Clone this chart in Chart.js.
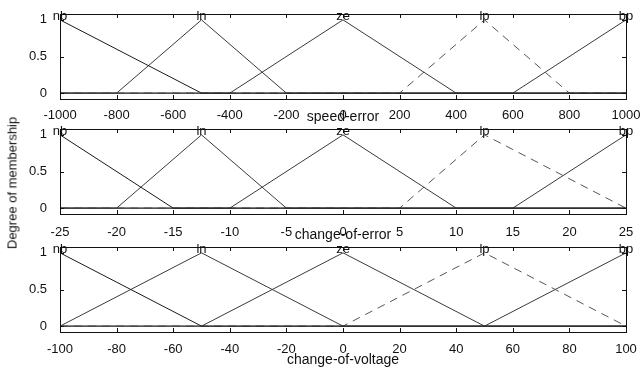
<!DOCTYPE html>
<html>
<head>
<meta charset="utf-8">
<script src="https://cdn.jsdelivr.net/npm/chart.js@4.4.1/dist/chart.umd.min.js"></script>
<style>
  body { margin: 0; background: #fff; width: 640px; height: 369px; overflow: hidden; position: relative; }
  canvas { position: absolute; left: 0; }
  #ylabel {
    position: absolute; left: 12px; top: 183px;
    transform: translate(-50%, -50%) rotate(-90deg);
    font: 13px "Liberation Sans", Arial, sans-serif; color: #111; white-space: nowrap;
  }
</style>
</head>
<body>
<canvas id="speed" width="640" height="124" style="top:0px"></canvas>
<canvas id="error" width="640" height="120" style="top:124px"></canvas>
<canvas id="voltage" width="640" height="125" style="top:244px"></canvas>
<div id="ylabel">Degree of membership</div>
<script>
const mfNames = ['nb', 'ln', 'ze', 'lp', 'bp'];

const speedTicks = [-1000, -800, -600, -400, -200, 0, 200, 400, 600, 800, 1000];
const speedMF = [
  [[-1000, 1], [-500, 0], [1000, 0]],
  [[-1000, 0], [-800, 0], [-500, 1], [-200, 0], [1000, 0]],
  [[-1000, 0], [-400, 0], [0, 1], [400, 0], [1000, 0]],
  [[-1000, 0], [200, 0], [500, 1], [800, 0], [1000, 0]],
  [[-1000, 0], [600, 0], [1000, 1]]
];

const errorTicks = [-25, -20, -15, -10, -5, 0, 5, 10, 15, 20, 25];
const errorMF = [
  [[-25, 1], [-15, 0], [25, 0]],
  [[-25, 0], [-20, 0], [-12.5, 1], [-5, 0], [25, 0]],
  [[-25, 0], [-10, 0], [0, 1], [10, 0], [25, 0]],
  [[-25, 0], [5, 0], [12.5, 1], [25, 0]],
  [[-25, 0], [15, 0], [25, 1]]
];

const voltageTicks = [-100, -80, -60, -40, -20, 0, 20, 40, 60, 80, 100];
const voltageMF = [
  [[-100, 1], [-50, 0], [100, 0]],
  [[-100, 0], [-50, 1], [0, 0], [100, 0]],
  [[-100, 0], [-50, 0], [0, 1], [50, 0], [100, 0]],
  [[-100, 0], [0, 0], [50, 1], [100, 0]],
  [[-100, 0], [50, 0], [100, 1]]
];

const yTicks = [0, 0.5, 1];
const FONT = '"Liberation Sans", Arial, sans-serif';

// box, inward ticks and mf names on top edge (matlab plotmf look)
const frame = {
  id: 'frame',
  afterDatasetsDraw(chart) {
    const {ctx, chartArea: a, scales: {x, y}} = chart;
    ctx.save();
    ctx.strokeStyle = '#111';
    ctx.lineWidth = 1;
    ctx.strokeRect(a.left + 0.5, a.top + 0.5, a.right - a.left, a.bottom - a.top);
    ctx.beginPath();
    x.ticks.forEach(t => {
      const px = Math.round(x.getPixelForValue(t.value)) + 0.5;
      ctx.moveTo(px, a.bottom); ctx.lineTo(px, a.bottom - 4);
      ctx.moveTo(px, a.top); ctx.lineTo(px, a.top + 4);
    });
    y.ticks.forEach(t => {
      const py = Math.round(y.getPixelForValue(t.value)) + 0.5;
      ctx.moveTo(a.left, py); ctx.lineTo(a.left + 4, py);
      ctx.moveTo(a.right, py); ctx.lineTo(a.right - 4, py);
    });
    ctx.stroke();
    ctx.fillStyle = '#111';
    ctx.font = '13px ' + FONT;
    ctx.textAlign = 'center';
    ctx.textBaseline = 'middle';
    chart.data.datasets.forEach(ds => {
      const peak = ds.data.find(p => p.y === 1);
      ctx.fillText(ds.label, x.getPixelForValue(peak.x), a.top + 2);
    });
    ctx.restore();
  }
};

function panel(id, ticks, mfs, title, o) {
  new Chart(document.getElementById(id), {
    type: 'line',
    data: {
      datasets: mfs.map((pts, i) => ({
        label: mfNames[i],
        data: pts.map(p => ({x: p[0], y: p[1]})),
        borderColor: i === 0 ? '#1a1a1a' : (i === 3 ? '#555' : '#3a3a3a'),
        borderWidth: 1,
        borderDash: i === 3 ? [8, 6] : [],
        pointRadius: 0,
        tension: 0
      }))
    },
    options: {
      responsive: false,
      animation: false,
      layout: {padding: {top: o.padTop, right: 14, left: 0, bottom: 0}},
      plugins: {legend: {display: false}, tooltip: {enabled: false}},
      scales: {
        x: {
          type: 'linear',
          min: ticks[0],
          max: ticks[ticks.length - 1],
          afterBuildTicks: s => { s.ticks = ticks.map(v => ({value: v})); },
          afterFit: s => { s.height = o.axisH; s.paddingLeft = 0; s.paddingRight = 0; },
          grid: {display: false},
          border: {display: false},
          ticks: {
            color: '#111', padding: o.tickPad, maxRotation: 0, autoSkip: false,
            font: {family: FONT, size: 13},
            callback: v => String(v)
          },
          title: {
            display: true, text: title, color: '#111',
            font: {family: FONT, size: 14, lineHeight: 1},
            padding: {top: 0, bottom: o.titlePad}
          }
        },
        y: {
          min: -0.08,
          max: 1.08,
          afterBuildTicks: s => { s.ticks = yTicks.map(v => ({value: v})); },
          afterFit: s => { s.width = 60; s.paddingTop = 0; s.paddingBottom = 0; },
          grid: {display: false},
          border: {display: false},
          ticks: {
            color: '#111', padding: 5,
            font: {family: FONT, size: 13},
            callback: v => String(v)
          }
        }
      }
    },
    plugins: [frame]
  });
}

panel('speed', speedTicks, speedMF, 'speed-error', {padTop: 14, axisH: 25, tickPad: 1, titlePad: 0});
panel('error', errorTicks, errorMF, 'change-of-error', {padTop: 5, axisH: 30, tickPad: 3, titlePad: 2});
panel('voltage', voltageTicks, voltageMF, 'change-of-voltage', {padTop: 3, axisH: 37, tickPad: 2, titlePad: 2});
</script>
</body>
</html>
